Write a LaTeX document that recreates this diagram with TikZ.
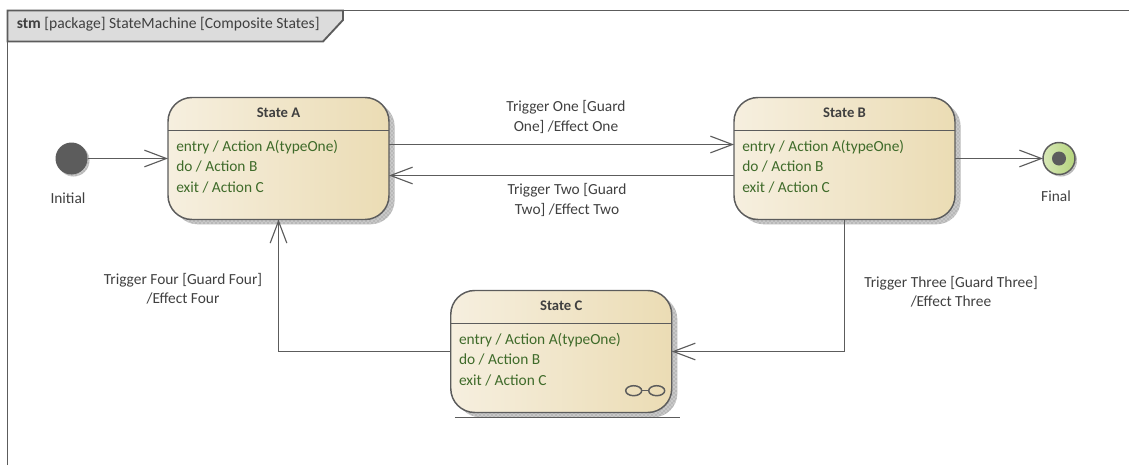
\documentclass[tikz,border=0pt]{standalone}
\usepackage{fontspec}
\setmainfont{Carlito}
\usepackage{tikz}
\usetikzlibrary{calc}
\usetikzlibrary{patterns}
\usetikzlibrary{arrows.meta}

\definecolor{lineGray}{HTML}{5C5C5C}
\definecolor{textGray}{HTML}{404040}
\definecolor{actionGreen}{HTML}{3F6B2A}
\definecolor{tabGray}{HTML}{DCDCDC}
\definecolor{stateLeft}{HTML}{F6EFDF}
\definecolor{stateRight}{HTML}{EBDCB4}
\definecolor{finalLeft}{HTML}{D8E8B8}
\definecolor{finalRight}{HTML}{B5D47C}
\definecolor{shadowGray}{HTML}{B8B8B8}
\tikzset{
    edge/.style={draw=lineGray,line width=0.85pt,-{Straight Barb[length=16.5pt,width=12.5pt,line width=0.85pt]}},
    rule/.style={draw=lineGray,line width=1.1pt},
    framerule/.style={draw=lineGray,line width=1.4pt},
    shade dots/.style={fill=shadowGray,postaction={pattern=crosshatch dots,pattern color=white}},
    statebox/.style={draw=lineGray,line width=1.1pt,rounded corners=18pt,minimum width=165.75pt,minimum height=91.5pt,
        inner sep=0pt,outer sep=0pt,left color=stateLeft,right color=stateRight,
        preaction={fill=shadowGray,transform canvas={shift={(4.2pt,-3.6pt)}}},
        preaction={pattern=crosshatch dots,pattern color=white,transform canvas={shift={(4.2pt,-3.6pt)}}}},
    statetitle/.style={text=textGray,font=\fontsize{11}{13}\selectfont\bfseries},
    actions/.style={text=actionGreen,align=left,inner sep=0pt,anchor=north west,font=\fontsize{11.55}{15.4}\selectfont},
    caption/.style={text=textGray,align=center,inner sep=0pt,font=\fontsize{11.55}{14.4}\selectfont},
    dot/.style={circle,inner sep=0pt,outer sep=0pt,minimum size=24pt},
}

\begin{document}
\begin{tikzpicture}[x=0.75pt,y=-0.75pt]
    \useasboundingbox (0,0) rectangle (1129,465);
    % frame and tab
    \draw[framerule] (7.5,465) -- (7.5,10.5) -- (1129,10.5);
    \draw[framerule,fill=tabGray] (7.5,10.5) -- (343,10.5) -- (343,20) -- (323,41.5) -- (7.5,41.5) -- cycle;
    \node[anchor=west,inner sep=0pt,text=textGray,font=\fontsize{11.7}{14}\selectfont] (tab) at (16.5,24.5) {\textbf{stm} [package] StateMachine [Composite States]};
    % states
    \foreach \s/\x/\y in {A/278.5/158.5,B/844.5/158.5,C/561.25/351.5}{
        \node[statebox] (state\s) at (\x,\y) {};
        \draw[rule] ($(state\s.north west)+(0,33)$) -- ($(state\s.north east)+(0,33)$);
        \node[statetitle] (title\s) at ($(state\s.north)+(0,15)$) {State \s};
        \node[actions] (actions\s) at ($(state\s.north west)+(8,42)$) {entry / Action A(typeOne)\\do / Action B\\exit / Action C};
    }
    % composite icon and base line of state C
    \draw[rule] (633.7,390.7) ellipse (8 and 5);
    \draw[rule] (656.7,390.7) ellipse (8 and 5);
    \draw[rule] (641.7,390.7) -- (648.7,390.7);
    \draw[rule] ($(stateC.south west)+(4,5)$) -- ($(stateC.south east)+(8,5)$);
    % initial and final
    \fill[shade dots] (73.5,160.5) circle (16);
    \node[dot,fill=lineGray] (initial) at (71.5,158.5) {};
    \fill[shade dots] (1061,160.5) circle (16);
    \node[dot,draw=lineGray,line width=1.1pt,left color=finalLeft,right color=finalRight] (final) at (1059,158.5) {};
    \fill[lineGray] (final.center) circle (7);
    \node[caption] (initialName) at (68,198) {Initial};
    \node[caption] (finalName) at (1056,196) {Final};
    % connectors
    \draw[edge] (initial) -- (stateA.west);
    \draw[edge] ($(stateA.east)+(0,-14)$) -- ($(stateB.west)+(0,-14)$);
    \draw[edge] ($(stateB.west)+(0,17)$) -- ($(stateA.east)+(0,17)$);
    \draw[edge] (stateB.east) -- (final);
    \draw[edge] (stateB.south) |- (stateC.east);
    \draw[edge] (stateC.west) -| (stateA.south);
    % transition labels
    \node[caption] (triggerOne) at (566,117) {Trigger One [Guard\\One] /Effect One};
    \node[caption] (triggerTwo) at (567,200) {Trigger Two [Guard\\Two] /Effect Two};
    \node[caption] (triggerFour) at (183,289) {Trigger Four [Guard Four]\\/Effect Four};
    \node[caption] (triggerThree) at (951,292) {Trigger Three [Guard Three]\\/Effect Three};
\end{tikzpicture}
\end{document}
